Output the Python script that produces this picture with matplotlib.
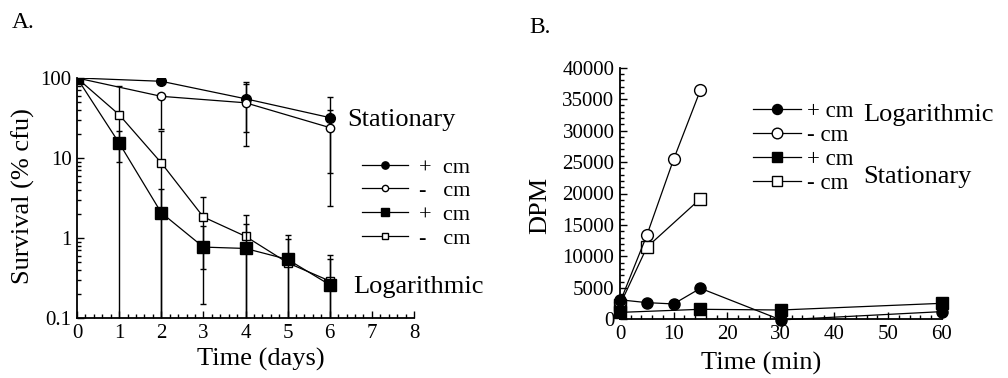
import matplotlib
matplotlib.use("Agg")
import matplotlib.pyplot as plt
import numpy as np
from matplotlib.ticker import MultipleLocator, NullFormatter, LogLocator

plt.rcParams['font.family'] = ['Liberation Serif', 'DejaVu Serif']

# ---------------- Panel A data: survival (% cfu) ----------------
days = [0, 1, 2, 3, 4, 5, 6]
days_stat = [0, 2, 4, 6]

stat_plus = [100, 91, 55, 32]
stat_plus_lo = [100, 91, 21, 6.5]
stat_plus_hi = [100, 91, 89, 58]

stat_minus = [100, 59, 49, 24]
stat_minus_lo = [100, 23, 14, 2.5]
stat_minus_hi = [100, 59, 84, 40]

log_plus = [100, 15.4, 2.07, 0.77, 0.74, 0.54, 0.26]
log_plus_lo = [100, 9.0, 0.05, 0.15, 0.05, 0.05, 0.05]
log_plus_hi = [100, 22, 4.1, 1.43, 1.51, 1.1, 0.54]

log_minus = [100, 34.8, 8.7, 1.83, 1.05, 0.49, 0.29]
log_minus_lo = [100, 0.05, 0.05, 0.41, 0.05, 0.05, 0.05]
log_minus_hi = [100, 79, 22, 3.25, 1.95, 0.97, 0.61]

# ---------------- Panel B data: DPM ----------------
t_log_plus = [0, 5, 10, 15, 30, 60]
dpm_log_plus = [3100, 2650, 2440, 4930, -100, 1220]
t_log_minus = [0, 5, 10, 15]
dpm_log_minus = [2700, 13350, 25430, 36450]
t_stat_plus = [0, 15, 30, 60]
dpm_stat_plus = [1100, 1590, 1480, 2540]
t_stat_minus = [0, 5, 15]
dpm_stat_minus = [2300, 11440, 19180]

fig = plt.figure(figsize=(10.08, 3.78), dpi=100)
W, H = 1008, 378

def fr(x0, y0, x1, y1):
    return [x0 / W, 1 - y1 / H, (x1 - x0) / W, (y1 - y0) / H]

axA = fig.add_axes(fr(77, 78, 414, 318))
axB = fig.add_axes(fr(620, 67.7, 941.7, 319.3))

LW = 0.9
TICKFS = 15
LABFS = 19

def err(v, lo, hi):
    v = np.array(v, float)
    return [v - np.array(lo, float), np.array(hi, float) - v]

ekw = dict(capsize=2.2, elinewidth=1.0, capthick=1.0, color='black', lw=LW)

c1 = axA.errorbar(days_stat, stat_plus, yerr=err(stat_plus, stat_plus_lo, stat_plus_hi),
                  marker='o', ms=7, mfc='black', mec='black', zorder=3, **ekw)
c2 = axA.errorbar(days_stat, stat_minus, yerr=err(stat_minus, stat_minus_lo, stat_minus_hi),
                  marker='o', ms=6, mfc='white', mec='black', mew=1.0, zorder=3, **ekw)
c4 = axA.errorbar(days, log_minus, yerr=err(log_minus, log_minus_lo, log_minus_hi),
                  marker='s', ms=6, mfc='white', mec='black', mew=1.0, zorder=3, **ekw)
c3 = axA.errorbar(days, log_plus, yerr=err(log_plus, log_plus_lo, log_plus_hi),
                  marker='s', ms=8, mfc='black', mec='black', zorder=4, **ekw)

axA.set_yscale('log')
axA.set_ylim(0.1, 100)
axA.set_xlim(0, 8)
axA.set_yticks([0.1, 1, 10, 100])
axA.set_yticklabels(['0.1', '1', '10', '100'])
axA.yaxis.set_minor_locator(LogLocator(base=10, subs=np.arange(2, 10)))
axA.yaxis.set_minor_formatter(NullFormatter())
axA.set_xticks(range(0, 9))
axA.xaxis.set_minor_locator(MultipleLocator(0.2))

legA = axA.legend([c1.lines[0], c2.lines[0], c3.lines[0], c4.lines[0]],
                  ['+  cm', '-   cm', '+  cm', '-   cm'],
                  loc='upper left', bbox_to_anchor=(362 / W, 1 - 157 / H),
                  bbox_transform=fig.transFigure, frameon=False, fontsize=16,
                  borderpad=0, borderaxespad=0, handlelength=2.05, handletextpad=0.5,
                  labelspacing=0.14, markerscale=0.75)

axA.text(347 / W, 1 - 120 / H, 'Stationary', transform=fig.transFigure,
         fontsize=LABFS, ha='left', va='center')
axA.text(353 / W, 1 - 287 / H, 'Logarithmic', transform=fig.transFigure,
         fontsize=LABFS, ha='left', va='center')

axA.set_xlabel('Time (days)', fontsize=LABFS)
axA.set_ylabel('Survival (% cfu)', fontsize=LABFS)
axA.xaxis.set_label_coords(0.546, -0.125)
axA.yaxis.set_label_coords(-0.125, 0.508)

# ---------------- Panel B ----------------
pkw = dict(color='black', lw=LW, clip_on=False)
p4, = axB.plot(t_stat_minus, dpm_stat_minus, marker='s', ms=8, mfc='white', mec='black',
               mew=1.0, zorder=3, **pkw)
p2, = axB.plot(t_log_minus, dpm_log_minus, marker='o', ms=8.5, mfc='white', mec='black',
               mew=1.0, zorder=3, **pkw)
p3, = axB.plot(t_stat_plus, dpm_stat_plus, marker='s', ms=8, mfc='black', mec='black',
               zorder=4, **pkw)
p1, = axB.plot(t_log_plus, dpm_log_plus, marker='o', ms=8, mfc='black', mec='black',
               zorder=4, **pkw)

axB.set_xlim(0, 60)
axB.set_ylim(0, 40000)
axB.set_xticks(range(0, 61, 10))
axB.xaxis.set_minor_locator(MultipleLocator(2))
axB.set_yticks(range(0, 40001, 5000))
axB.yaxis.set_minor_locator(MultipleLocator(1000))

legB = axB.legend([p1, p2, p3, p4], ['+ cm', '- cm', '+ cm', '- cm'],
                  loc='upper left', bbox_to_anchor=(753 / W, 1 - 101 / H),
                  bbox_transform=fig.transFigure, frameon=False, fontsize=16.5,
                  borderpad=0, borderaxespad=0, handlelength=2.1, handletextpad=0.25,
                  labelspacing=0.13, markerscale=0.9)

axB.text(863 / W, 1 - 115 / H, 'Logarithmic', transform=fig.transFigure,
         fontsize=LABFS, ha='left', va='center')
axB.text(863 / W, 1 - 177 / H, 'Stationary', transform=fig.transFigure,
         fontsize=LABFS, ha='left', va='center')

axB.set_xlabel('Time (min)', fontsize=LABFS)
axB.set_ylabel('DPM', fontsize=LABFS)
axB.xaxis.set_label_coords(0.438, -0.13)
axB.yaxis.set_label_coords(-0.215, 0.454)

for ax in (axA, axB):
    for s in ('top', 'right'):
        ax.spines[s].set_visible(False)
    for s in ('left', 'bottom'):
        ax.spines[s].set_linewidth(1.3)
    ax.tick_params(which='both', direction='in', width=1.0, labelsize=TICKFS, pad=4)
    ax.tick_params(which='major', length=5)
    ax.tick_params(which='minor', length=3)

fig.text(12 / W, 1 - 28 / H, 'A.', fontsize=17, ha='left', va='baseline')
fig.text(529 / W, 1 - 33 / H, 'B.', fontsize=17, ha='left', va='baseline')

fig.savefig('out.png', dpi=100)
